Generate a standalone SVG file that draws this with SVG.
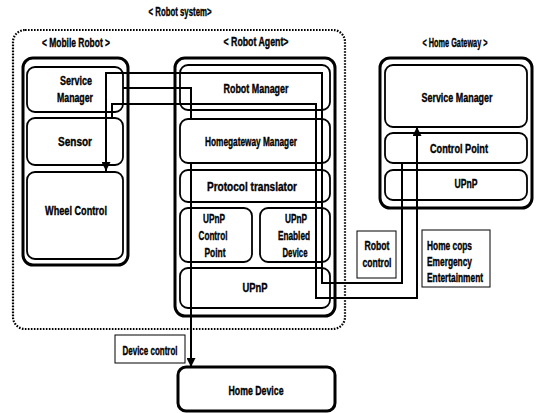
<svg xmlns="http://www.w3.org/2000/svg" width="536" height="413" viewBox="0 0 536 413">
<defs>
<style>
.t{font-family:"Liberation Sans",Arial,sans-serif;font-weight:bold;font-size:12px;fill:#000;stroke:#000;stroke-width:0.35;text-anchor:middle}
.tl{font-family:"Liberation Sans",Arial,sans-serif;font-weight:bold;font-size:12px;fill:#000;stroke:#000;stroke-width:0.35;text-anchor:start}
.outer{fill:none;stroke:#000;stroke-width:3}
.inner{fill:#fff;stroke:#000;stroke-width:1.8}
.lbl{fill:#fff;stroke:#000;stroke-width:1}
.sys{fill:none;stroke:#000;stroke-width:2.2;stroke-dasharray:1.6 1.4}
.conn{fill:none;stroke:#000;stroke-width:2}
</style>
<marker id="arr" viewBox="0 0 10 10" refX="10" refY="5" markerWidth="6" markerHeight="4.5" markerUnits="strokeWidth" orient="auto">
<path d="M0,0 L10,5 L0,10 z" fill="#000"/>
</marker>
</defs>
<rect width="536" height="413" fill="#fff"/>

<g id="robot-system">
<rect class="sys" x="13" y="30" width="332" height="299" rx="12"/>
<text class="t" x="180" y="16" textLength="63" lengthAdjust="spacingAndGlyphs">&lt; Robot system&gt;</text>
</g>

<g id="mobile-robot">
<text class="t" x="76" y="47" textLength="68" lengthAdjust="spacingAndGlyphs">&lt; Mobile Robot &gt;</text>
<rect class="outer" x="23" y="58" width="105" height="207" rx="10"/>
</g>
<g id="mr-service-manager">
<rect class="inner" x="27" y="67" width="96" height="45" rx="8"/>
<text class="t" x="76" y="85" textLength="32" lengthAdjust="spacingAndGlyphs">Service</text>
<text class="t" x="75" y="102" textLength="36" lengthAdjust="spacingAndGlyphs">Manager</text>
</g>
<g id="mr-sensor">
<rect class="inner" x="27" y="118" width="96" height="47" rx="8"/>
<text class="t" x="75" y="146" textLength="34" lengthAdjust="spacingAndGlyphs">Sensor</text>
</g>
<g id="mr-wheel-control">
<rect class="inner" x="27" y="172" width="96" height="87" rx="8"/>
<text class="t" x="76" y="215" textLength="62" lengthAdjust="spacingAndGlyphs">Wheel Control</text>
</g>

<g id="robot-agent">
<text class="t" x="256" y="46" textLength="65" lengthAdjust="spacingAndGlyphs">&lt; Robot Agent&gt;</text>
<rect class="outer" x="175" y="58" width="160" height="258" rx="10"/>
</g>
<g id="ra-robot-manager">
<rect class="inner" x="180" y="65" width="150" height="45" rx="8"/>
<text class="t" x="256" y="93" textLength="65" lengthAdjust="spacingAndGlyphs">Robot Manager</text>
</g>
<g id="ra-homegateway-manager">
<rect class="inner" x="180" y="119" width="150" height="44" rx="8"/>
<text class="t" x="251" y="146" textLength="92" lengthAdjust="spacingAndGlyphs">Homegateway Manager</text>
</g>
<g id="ra-protocol-translator">
<rect class="inner" x="180" y="170" width="150" height="32" rx="8"/>
<text class="t" x="252" y="191" textLength="90" lengthAdjust="spacingAndGlyphs">Protocol translator</text>
</g>
<g id="ra-upnp-cp">
<rect class="inner" x="180" y="208" width="72" height="54" rx="8"/>
<text class="t" x="214" y="223" textLength="22" lengthAdjust="spacingAndGlyphs">UPnP</text>
<text class="t" x="213" y="240" textLength="29" lengthAdjust="spacingAndGlyphs">Control</text>
<text class="t" x="215" y="257" textLength="21" lengthAdjust="spacingAndGlyphs">Point</text>
</g>
<g id="ra-upnp-ed">
<rect class="inner" x="260" y="208" width="70" height="54" rx="8"/>
<text class="t" x="296" y="223" textLength="22" lengthAdjust="spacingAndGlyphs">UPnP</text>
<text class="t" x="294" y="240" textLength="32" lengthAdjust="spacingAndGlyphs">Enabled</text>
<text class="t" x="295" y="257" textLength="25" lengthAdjust="spacingAndGlyphs">Device</text>
</g>
<g id="ra-upnp">
<rect class="inner" x="180" y="268" width="150" height="40" rx="8"/>
<text class="t" x="255" y="292" textLength="25" lengthAdjust="spacingAndGlyphs">UPnP</text>
</g>

<g id="home-gateway">
<text class="t" x="455" y="47" textLength="65" lengthAdjust="spacingAndGlyphs">&lt; Home Gateway &gt;</text>
<rect class="outer" x="380" y="58" width="152" height="150" rx="10"/>
</g>
<g id="hg-service-manager">
<rect class="inner" x="385" y="65" width="142" height="62" rx="8"/>
<text class="t" x="457" y="102" textLength="71" lengthAdjust="spacingAndGlyphs">Service Manager</text>
</g>
<g id="hg-control-point">
<rect class="inner" x="385" y="133" width="142" height="30" rx="8"/>
<text class="t" x="459" y="153" textLength="58" lengthAdjust="spacingAndGlyphs">Control Point</text>
</g>
<g id="hg-upnp">
<rect class="inner" x="385" y="170" width="142" height="30" rx="8"/>
<text class="t" x="466" y="188" textLength="23" lengthAdjust="spacingAndGlyphs">UPnP</text>
</g>

<g id="home-device">
<rect class="outer" x="178" y="367" width="157" height="44" rx="8"/>
<text class="t" x="256" y="395" textLength="55" lengthAdjust="spacingAndGlyphs">Home Device</text>
</g>

<g id="connectors">
<polyline class="conn" points="402,163 402,283 322,283 322,73 106,73 106,171" marker-end="url(#arr)"/>
<polyline class="conn" points="112,118 112,104 316,104 316,298 417,298 417,127" marker-end="url(#arr)"/>
<polyline class="conn" points="123,88 191,88 191,119"/>
<polyline class="conn" points="191,163 191,367" marker-end="url(#arr)"/>
</g>

<g id="label-robot-control">
<rect class="lbl" x="357" y="231" width="39" height="47"/>
<text class="t" x="377" y="250" textLength="25" lengthAdjust="spacingAndGlyphs">Robot</text>
<text class="t" x="377" y="267" textLength="29" lengthAdjust="spacingAndGlyphs">control</text>
</g>
<g id="label-services">
<rect class="lbl" x="422" y="230" width="68" height="57"/>
<text class="tl" x="427" y="250" textLength="45" lengthAdjust="spacingAndGlyphs">Home cops</text>
<text class="tl" x="427" y="266" textLength="45" lengthAdjust="spacingAndGlyphs">Emergency</text>
<text class="tl" x="427" y="282" textLength="56" lengthAdjust="spacingAndGlyphs">Entertainment</text>
</g>
<g id="label-device-control">
<rect class="lbl" x="115" y="335" width="70" height="28"/>
<text class="t" x="150" y="355" textLength="55" lengthAdjust="spacingAndGlyphs">Device control</text>
</g>
</svg>
